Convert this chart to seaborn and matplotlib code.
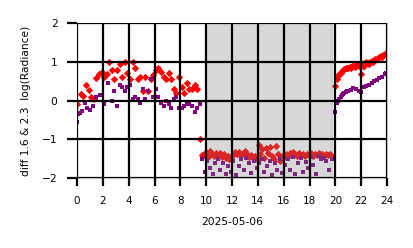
import numpy as np
import pandas as pd
import matplotlib
matplotlib.use("Agg")
import matplotlib.pyplot as plt
import seaborn as sns

# ---- data (hours of day, log radiance differences) ----
red_hours = [0.0, 0.3, 0.5, 0.7, 0.9, 1.1, 1.3, 1.5, 1.7, 1.9, 2.1, 2.3, 2.5, 2.7, 2.9,
             3.1, 3.3, 3.5, 3.7, 3.9, 4.1, 4.3, 4.5, 4.7, 4.9, 5.1, 5.3, 5.5, 5.7, 5.9,
             6.1, 6.3, 6.5, 6.7, 6.9, 7.1, 7.3, 7.5, 7.7, 7.9, 8.1, 8.3, 8.5, 8.7, 8.9,
             9.1, 9.3, 9.5, 9.7,
             9.85, 10.0, 10.15, 10.3, 10.45, 10.6, 10.75, 10.9, 11.05, 11.2, 11.35, 11.5,
             11.65, 11.8, 11.95, 12.1, 12.25, 12.4, 12.55, 12.7, 12.85, 13.0, 13.15, 13.3,
             13.45, 13.6, 13.75, 13.9, 14.05, 14.2, 14.35, 14.5, 14.65, 14.8, 14.95, 15.1,
             15.25, 15.4, 15.55, 15.7, 15.85, 16.0, 16.15, 16.3, 16.45, 16.6, 16.75, 16.9,
             17.05, 17.2, 17.35, 17.5, 17.65, 17.8, 17.95, 18.1, 18.25, 18.4, 18.55, 18.7,
             18.85, 19.0, 19.15, 19.3, 19.45, 19.6, 19.75,
             20.0, 20.1, 20.2, 20.3, 20.4, 20.5, 20.6, 20.7, 20.8, 20.9, 21.0, 21.1, 21.2,
             21.3, 21.4, 21.5, 21.6, 21.7, 21.8, 21.9, 22.0, 22.1, 22.2, 22.3, 22.4, 22.5,
             22.6, 22.7, 22.8, 22.9, 23.0, 23.1, 23.2, 23.3, 23.4, 23.5, 23.6, 23.7, 23.8, 23.9]
red_values = [-0.08, 0.18, 0.12, 0.39, 0.26, 0.08, 0.05, 0.57, 0.69, 0.73, 0.62, 0.68,
              1.0, 0.8, 0.55, 0.8, 0.95, 0.6, 1.0, 0.7, 0.55, 1.0, 0.85, 0.55, 0.6, 0.25,
              0.6, 0.25, 0.55, 0.65, 0.8, 0.85, 0.75, 0.6, 0.55, 0.7, 0.55, 0.3, 0.2,
              0.6, 0.35, 0.2, 0.45, 0.3, 0.3, 0.4, 0.3, -1.0, -1.4,
              -1.40, -1.33, -1.45, -1.30, -1.38, -1.42, -1.35, -1.40, -1.36, -1.45, -1.39,
              -1.48, -1.42, -1.50, -1.45, -1.40, -1.34, -1.38, -1.32, -1.40, -1.36, -1.30,
              -1.38, -1.45, -1.40, -1.48, -1.42, -1.52, -1.15, -1.38, -1.25, -1.48, -1.22,
              -1.35, -1.20, -1.42, -1.50, -1.18, -1.38, -1.55, -1.42, -1.45, -1.38, -1.42,
              -1.36, -1.40, -1.34, -1.38, -1.42, -1.36, -1.40, -1.38, -1.42, -1.37, -1.40,
              -1.36, -1.42, -1.38, -1.40, -1.36, -1.40, -1.38, -1.42, -1.37, -1.40, -1.38,
              -1.42,
              0.37, 0.55, 0.63, 0.68, 0.72, 0.76, 0.80, 0.82, 0.84, 0.85, 0.83, 0.87, 0.85,
              0.88, 0.90, 0.86, 0.92, 0.95, 0.90, 0.95, 0.68, 0.88, 0.90, 0.97, 1.00, 0.98,
              0.95, 1.00, 1.02, 1.00, 1.05, 1.08, 1.06, 1.10, 1.12, 1.15, 1.13, 1.18, 1.20,
              1.22]

purple_hours = [0.0, 0.05, 0.2, 0.4, 0.6, 0.8, 1.0, 1.2, 1.5, 1.8, 2.1, 2.4, 2.7, 2.9,
                3.1, 3.3, 3.5, 3.7, 3.9, 4.1, 4.3, 4.5, 4.7, 4.9, 5.1, 5.3, 5.5, 5.7, 5.9,
                6.1, 6.3, 6.5, 6.7, 6.9, 7.1, 7.3, 7.5, 7.7, 7.9, 8.1, 8.3, 8.5, 8.7, 8.9,
                9.1, 9.3, 9.5,
                9.7, 9.9, 10.1, 10.3, 10.5, 10.7, 10.9, 11.1, 11.3, 11.5, 11.7, 11.9, 12.1,
                12.3, 12.5, 12.7, 12.9, 13.1, 13.3, 13.5, 13.7, 13.9, 14.1, 14.3, 14.5,
                14.7, 14.9, 15.1, 15.3, 15.5, 15.7, 15.9, 16.1, 16.3, 16.5, 16.7, 16.9,
                17.1, 17.3, 17.5, 17.7, 17.9, 18.1, 18.3, 18.5, 18.7, 18.9, 19.1, 19.3,
                19.5, 19.7,
                20.0, 20.1, 20.2, 20.3, 20.4, 20.5, 20.6, 20.7, 20.8, 20.9, 21.0, 21.2,
                21.4, 21.6, 21.8, 22.0, 22.2, 22.4, 22.6, 22.8, 23.0, 23.2, 23.4, 23.6,
                23.8, 23.9]
purple_values = [-0.55, -0.35, -0.32, -0.28, -0.05, -0.2, -0.25, -0.15, 0.1, 0.15, -0.1,
                 0.45, 0.0, 0.25, -0.15, 0.4, 0.35, 0.25, 0.35, 0.4, 0.05, 0.1, 0.05,
                 -0.05, 0.3, 0.05, 0.25, 0.55, 0.1, 0.3, 0.1, -0.05, -0.15, 0.0, -0.1,
                 -0.2, 0.05, 0.1, -0.2, -0.2, -0.15, -0.1, -0.1, -0.15, -0.3, -0.2, -0.1,
                 -1.50, -1.85, -1.55, -1.75, -1.90, -1.60, -1.52, -1.78, -1.62, -1.90,
                 -1.70, -1.85, -1.55, -1.92, -1.68, -1.52, -1.80, -1.48, -1.62, -1.88,
                 -1.55, -1.75, -1.60, -1.50, -1.85, -1.70, -1.55, -1.92, -1.60, -1.78,
                 -1.52, -1.88, -1.65, -1.50, -1.78, -1.45, -1.90, -1.62, -1.48, -1.85,
                 -1.58, -1.75, -1.45, -1.65, -1.90, -1.42, -1.52, -1.48, -1.55, -1.80,
                 -1.50,
                 -0.30, -0.05, -0.02, 0.05, 0.10, 0.15, 0.18, 0.20, 0.22, 0.25, 0.25, 0.28,
                 0.32, 0.30, 0.25, 0.22, 0.35, 0.38, 0.40, 0.45, 0.50, 0.52, 0.58, 0.62,
                 0.68, 0.70]

x_ticks = [0, 2, 4, 6, 8, 10, 12, 14, 16, 18, 20, 22, 24]
y_ticks = [-2, -1, 0, 1, 2]
night_start, night_end = 9.9, 19.8
x_label = "2025-05-06"
y_label = "diff 1.6 & 2.3  log(Radiance)"

red_df = pd.DataFrame({"hour": red_hours, "value": red_values})
purple_df = pd.DataFrame({"hour": purple_hours, "value": purple_values})

fig = plt.figure(figsize=(4.14, 2.48), dpi=100)
ax = fig.add_axes([0.186, 0.282, 0.749, 0.625])

sns.scatterplot(data=red_df, x="hour", y="value", ax=ax, marker="D", color="#ff0000",
                s=14, linewidth=0, zorder=1)
sns.scatterplot(data=purple_df, x="hour", y="value", ax=ax, marker="s", color="#800080",
                s=10, linewidth=0, zorder=1)

ax.axvspan(night_start, night_end, color="#808080", alpha=0.3, lw=0, zorder=1.5)
ax.axvspan(19.55, night_end, color="#808080", alpha=0.08, lw=0, zorder=1.5)

ax.set_xlim(0, 24)
ax.set_ylim(-2, 2)
ax.set_xticks(x_ticks)
ax.set_yticks(y_ticks)
ax.set_axisbelow(False)
ax.grid(True, color="black", linewidth=1.6, zorder=2.5)
ax.tick_params(axis="x", length=6, width=1.6, labelsize=7.5, pad=7, color="black")
ax.tick_params(axis="y", length=7, width=1.6, labelsize=7.7, pad=7, color="black")
for s in ax.spines.values():
    s.set_color("#bbbbbb")
    s.set_linewidth(0.8)
ax.set_xlabel(x_label, fontsize=7.7, labelpad=8)
ax.set_ylabel(y_label, fontsize=7.7, labelpad=8)

fig.savefig("out.png", dpi=100)
